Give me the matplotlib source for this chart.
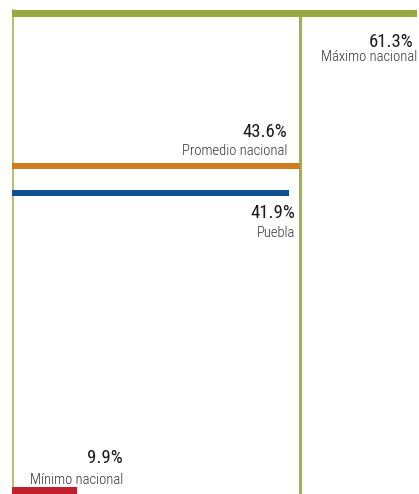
import matplotlib.pyplot as plt

# values (%)
labels = ["Máximo nacional", "Promedio nacional", "Puebla", "Mínimo nacional"]
values = [61.3, 43.6, 41.9, 9.9]
value_text = ["61.3%", "43.6%", "41.9%", "9.9%"]
average = 43.6

colors = ["#98a842", "#d07c1f", "#0d5192", "#c11f30"]

W, H = 419, 494
fig = plt.figure(figsize=(W / 100, H / 100), dpi=100)

# axis from x=12px to right edge, 0..61.6 %
left_px = 12
px_per_pct = 288 / average
xmax = (W - left_px) / px_per_pct
ax = fig.add_axes([left_px / W, 0, 1 - left_px / W, 1])
ax.set_xlim(0, xmax)
ax.set_ylim(H, 0)
ax.axis("off")

bar_y = [13.5, 166, 193, 490.5]
bar_h = [7, 6, 6, 7]
ax.barh(bar_y, values, height=bar_h, left=0, color=colors, zorder=3)

# left axis line and average line
ax.plot([0.08, 0.08], [10, H], color="#aebd5c", lw=1.3, zorder=2)
ax.plot([average, average], [17, H], color="#9db546", lw=2.2, zorder=2)

font = ["Roboto Condensed", "Open Sans Condensed", "DejaVu Sans"]

# label anchors (right edge, baselines) in pixels
lab_x = [413, 287, 295, 123]
num_base = [47, 137, 218, 463]
name_x = [417, 287, 295, 123]
name_base = [61, 155, 237, 484]

for i in range(len(values)):
    fig.text(lab_x[i] / W, 1 - num_base[i] / H, value_text[i], ha="right",
             va="baseline", fontsize=13.5, family=font, color="#1a1a1a")
    fig.text(name_x[i] / W, 1 - name_base[i] / H, labels[i], ha="right",
             va="baseline", fontsize=10.5, family=font, color="#333333",
             fontweight="light")

fig.savefig("out.png", dpi=100)
